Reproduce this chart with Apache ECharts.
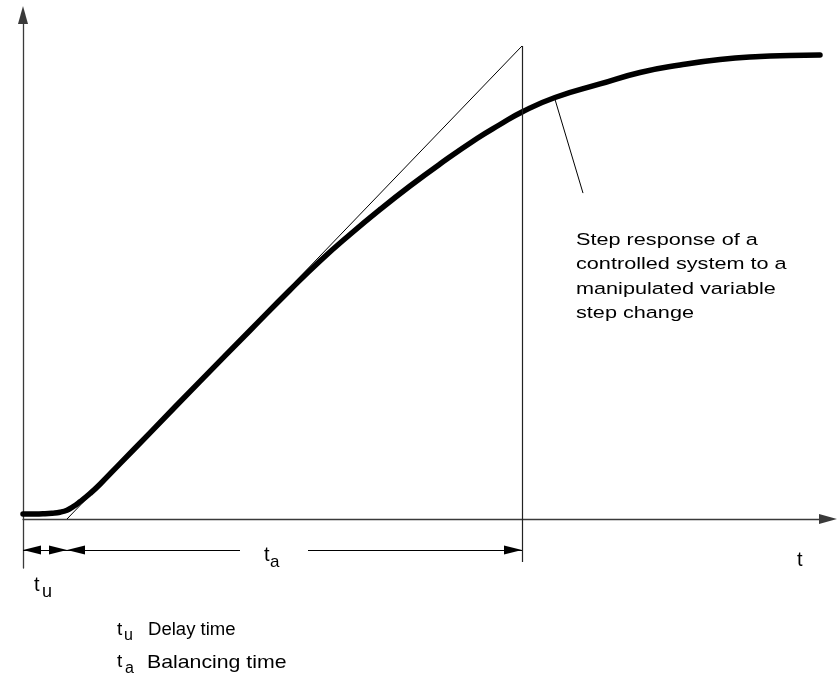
<!DOCTYPE html>
<html>
<head>
<meta charset="utf-8">
<script src="https://cdn.jsdelivr.net/npm/echarts@6/dist/echarts.min.js"></script>
<style>
  html, body { margin: 0; padding: 0; background: #fff; }
  #chart { width: 837px; height: 684px; }
</style>
</head>
<body>
<div id="chart"></div>
<script>
// Step response of the controlled system: time (s) and output (% of final value)
const time = [0, 1.2, 2.2, 2.9, 3.7, 4.4, 5.0, 5.7, 6.7, 7.7, 9.7, 12.7, 17.7, 22.7, 26.7, 29.7,
  32.7, 35.7, 38.7, 41.7, 45.4, 47.7, 49.9, 53.2, 57.7, 61.7, 65.7, 69.7, 73.7, 76.7, 79.7];
const response = [1.06, 1.06, 1.12, 1.23, 1.44, 1.86, 2.58, 3.66, 5.39, 7.36, 11.71, 18.22, 29.11, 39.85, 48.41, 54.55,
  60.15, 65.43, 70.40, 75.05, 80.44, 83.40, 86.05, 89.11, 91.97, 94.40, 95.98, 97.15, 97.78, 97.99, 98.10];

// Characteristic values
const finalValue = 100;      // steady-state level
const delayTime = 4.4;       // t_u
const balancingEnd = 49.9;   // t_u + t_a (where the inflection tangent reaches the final value)

// Annotation texts
const annotationLines = ['Step response of a', 'controlled system to a', 'manipulated variable', 'step change'];
const legendDelay = 'Delay time';
const legendBalancing = 'Balancing time';

// Layout helpers (drawing only)
const dimY = -6.55;          // height of the dimension arrows below the time axis
const labelGap = [21.7, 28.5];
const pointerFrom = [53.2, 88.7];
const pointerTo = [56.0, 68.9];

const FONT = '"Liberation Sans", Arial, Helvetica, sans-serif';
const chart = echarts.init(document.getElementById('chart'), null, { renderer: 'canvas' });

const axisLineStyle = { color: '#3a3a3a', width: 1.3 };
const arrowEnd = (coord) => ({ coord, symbol: 'triangle', symbolSize: [9, 18], symbolOffset: [0, 9] });
const plain = (coord) => ({ coord });

function txt(text, x, y, size, opts) {
  return Object.assign({
    type: 'text', x, y, silent: true,
    style: { text, fill: '#000', font: size + 'px ' + FONT, verticalAlign: 'middle', align: 'left' }
  }, opts || {});
}

chart.setOption({
  animation: false,
  backgroundColor: '#fff',
  grid: { left: 23, right: 9, top: 15, bottom: 116, containLabel: false },
  xAxis: {
    type: 'value', min: 0, max: 80.5,
    axisLine: { show: true, onZero: true, symbol: ['none', 'triangle'], symbolSize: [10, 18], lineStyle: axisLineStyle },
    axisTick: { show: false }, axisLabel: { show: false }, splitLine: { show: false }
  },
  yAxis: {
    type: 'value', min: -10.36, max: 106.55,
    axisLine: { show: true, onZero: true, symbol: ['none', 'triangle'], symbolSize: [10, 18], lineStyle: axisLineStyle },
    axisTick: { show: false }, axisLabel: { show: false }, splitLine: { show: false }
  },
  series: [
    {
      name: 'guides',
      type: 'line',
      data: [],
      clip: false,
      silent: true,
      z: 2,
      markLine: {
        silent: true,
        animation: false,
        symbol: 'none',
        label: { show: false },
        lineStyle: { type: 'solid', color: '#000', width: 1 },
        data: [
          // final value line
          [{ coord: [-1.3, finalValue], lineStyle: { color: '#3a3a3a', width: 1.3 } }, { coord: [81.4, finalValue] }],
          // inflection tangent
          [plain([delayTime, 0]), plain([balancingEnd, finalValue])],
          // end of balancing time
          [{ coord: [balancingEnd, finalValue], lineStyle: { color: '#222', width: 1.2 } }, plain([balancingEnd, -9.1])],
          // end of delay time
          [{ coord: [delayTime, 0], lineStyle: { color: '#3a3a3a', width: 1.3 } }, plain([delayTime, -10.4])],
          // t_u dimension
          [arrowEnd([0, dimY]), arrowEnd([delayTime, dimY])],
          // t_a dimension, split around its label
          [arrowEnd([delayTime, dimY]), plain([labelGap[0], dimY])],
          [plain([labelGap[1], dimY]), arrowEnd([balancingEnd, dimY])],
          // pointer to the curve
          [plain(pointerFrom), plain(pointerTo)]
        ]
      }
    },
    {
      name: 'Step response',
      type: 'line',
      data: time.map((t, i) => [t, response[i]]),
      showSymbol: false,
      smooth: 0.5,
      clip: false,
      silent: true,
      z: 3,
      lineStyle: { color: '#000', width: 5.5, cap: 'round', join: 'round' }
    }
  ],
  graphic: [
    {
      type: 'text', x: 576, y: 228, silent: true, scaleX: 1.33,
      style: { text: annotationLines.join('\n'), fill: '#000', font: '16.3px ' + FONT, lineHeight: 24.5, verticalAlign: 'top', align: 'left' }
    },
    txt('t', 797, 560, 20),
    txt('t', 264, 555, 20),
    txt('a', 270, 562.4, 17),
    txt('t', 34, 585, 20),
    txt('u', 42, 592, 18),
    txt('t', 117, 630, 19),
    txt('u', 124, 636, 16),
    txt(legendDelay, 148, 630, 17.5, { scaleX: 1.06 }),
    txt('t', 117, 662, 19),
    txt('a', 125, 669, 16),
    txt(legendBalancing, 147, 662.5, 18.5, { scaleX: 1.15 })
  ]
});
</script>
</body>
</html>
